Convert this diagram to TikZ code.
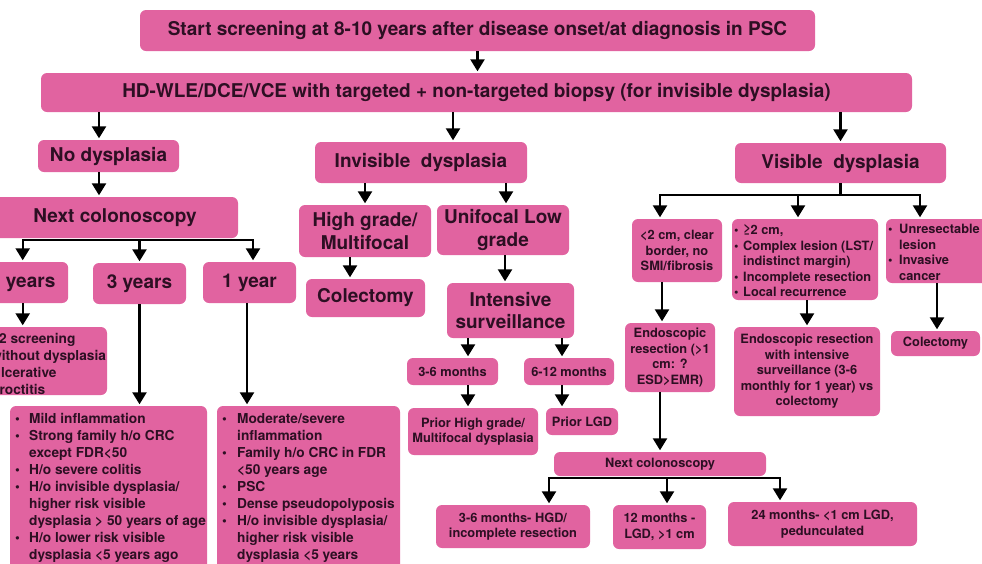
\documentclass[tikz,border=0pt]{standalone}
\usepackage{fontspec}
\setmainfont{TeX Gyre Heros}
\usetikzlibrary{arrows.meta,calc}
\definecolor{boxpink}{RGB}{225,99,160}
\definecolor{boxtext}{RGB}{45,15,35}
\begin{document}
\begin{tikzpicture}[x=1pt,y=-1pt,
  box/.style={fill=boxpink, rounded corners=6pt, inner sep=0pt, text=boxtext, align=center},
  big/.style={font=\fontsize{19}{22.5}\selectfont\bfseries},
  small/.style={font=\fontsize{12.8}{15.5}\selectfont\bfseries},
  btext/.style={inner sep=0pt, text=boxtext, align=left, anchor=north west},
  blist/.style={font=\fontsize{13.7}{17}\selectfont\bfseries},
  arr/.style={draw=black, line width=2.4pt, shorten >=1.5pt, -{Triangle[width=14pt,length=12pt]}},
  ln/.style={draw=black, line width=2.4pt}]
\useasboundingbox (0,0) rectangle (982,563);
\clip (0,0) rectangle (982,563);

% ---- top ----
\node[box,big,minimum width=675pt,minimum height=41pt] (start) at (477.5,30.5) {Start screening at 8-10 years after disease onset/at diagnosis in PSC};
\node[box,big,minimum width=871pt,minimum height=39pt] (hd) at (476.5,92.5) {HD-WLE/DCE/VCE with targeted + non-targeted biopsy (for invisible dysplasia)};
\node[box,big,minimum width=141pt,minimum height=32pt] (nodys) at (108.5,156) {No dysplasia};
\node[box,big,minimum width=212pt,minimum height=41pt] (invis) at (421,162.5) {Invisible\ \ dysplasia};
\node[box,big,minimum width=211pt,minimum height=40pt] (vis) at (840.5,163) {Visible\ \ dysplasia};

% ---- left branch ----
\node[box,big,minimum width=246pt,minimum height=41pt] (nextcol) at (115,217.5) {Next colonoscopy};
\node[box,big,minimum width=91pt,minimum height=41pt] (yfive) at (22.7,282.5) {5 years};
\node[box,big,minimum width=93pt,minimum height=41pt] (ythree) at (139.5,283.5) {3 years};
\node[box,big,minimum width=93pt,minimum height=41pt] (yone) at (249.5,282.5) {1 year};
\node[box,minimum width=132pt,minimum height=68pt] (leftbox) at (41,361) {};
\node[btext,blist] (lefttext) at (-9,332) {≥2 screening\\without dysplasia\\Ulcerative\\proctitis};
\node[box,minimum width=197pt,minimum height=214pt] (mild) at (108.5,513) {};
\node[btext,blist] (mildtext) at (15,413) {%
\makebox[14pt][l]{\textbullet}Mild inflammation\\
\makebox[14pt][l]{\textbullet}Strong family h/o CRC\\
\hspace*{14pt}except FDR<50\\
\makebox[14pt][l]{\textbullet}H/o severe colitis\\
\makebox[14pt][l]{\textbullet}H/o invisible dysplasia/\\
\hspace*{14pt}higher risk visible\\
\hspace*{14pt}dysplasia > 50 years of age\\
\makebox[14pt][l]{\textbullet}H/o lower risk visible\\
\hspace*{14pt}dysplasia <5 years ago};
\node[box,minimum width=183pt,minimum height=214pt] (moder) at (308.5,513) {};
\node[btext,blist] (modertext) at (222,413) {%
\makebox[15pt][l]{\textbullet}Moderate/severe\\
\hspace*{15pt}inflammation\\
\makebox[15pt][l]{\textbullet}Family h/o CRC in FDR\\
\hspace*{15pt}<50 years age\\
\makebox[15pt][l]{\textbullet}PSC\\
\makebox[15pt][l]{\textbullet}Dense pseudopolyposis\\
\makebox[15pt][l]{\textbullet}H/o invisible dysplasia/\\
\hspace*{15pt}higher risk visible\\
\hspace*{15pt}dysplasia <5 years};

% ---- middle branch ----
\node[box,big,minimum width=132pt,minimum height=52pt] (hg) at (365,231) {High grade/\\Multifocal};
\node[box,big,minimum width=132pt,minimum height=50pt] (ufl) at (503,230) {Unifocal Low\\grade};
\node[box,big,minimum width=119pt,minimum height=38pt] (colone) at (365.5,298) {Colectomy};
\node[box,big,minimum width=127pt,minimum height=55pt] (intens) at (510.5,310.5) {Intensive\\surveillance};
\node[box,small,minimum width=91pt,minimum height=27pt] (mthree) at (452.5,371.5) {3-6 months};
\node[box,small,minimum width=90pt,minimum height=27pt] (msix) at (569,371.5) {6-12 months};
\node[box,small,minimum width=130pt,minimum height=47pt] (priorhg) at (473,431.5) {Prior High grade/\\Multifocal dysplasia};
\node[box,small,minimum width=72pt,minimum height=27pt] (priorlgd) at (582,421.5) {Prior LGD};

% ---- right branch ----
\node[box,small,minimum width=90pt,minimum height=63pt] (boxA) at (677,250.5) {<2 cm, clear\\border, no\\SMI/fibrosis};
\node[box,minimum width=146pt,minimum height=81pt] (cplx) at (805,259.5) {};
\node[btext,small] (cplxtext) at (734,224.4) {%
\makebox[9pt][l]{\textbullet}≥2 cm,\\
\makebox[9pt][l]{\textbullet}Complex lesion (LST/\\
\hspace*{9pt}indistinct margin)\\
\makebox[9pt][l]{\textbullet}Incomplete resection\\
\makebox[9pt][l]{\textbullet}Local recurrence};
\node[box,minimum width=104pt,minimum height=64pt] (unres) at (938,251) {};
\node[btext,small] (unrestext) at (888,224.4) {%
\makebox[11pt][l]{\textbullet}Unresectable\\
\hspace*{11pt}lesion\\
\makebox[11pt][l]{\textbullet}Invasive\\
\hspace*{11pt}cancer};
\node[box,small,minimum width=90pt,minimum height=69pt] (endores) at (670,357.5) {Endoscopic\\resection (>1\\cm: ?\\ESD>EMR)};
\node[box,small,minimum width=146pt,minimum height=89pt] (endint) at (807,371.5) {Endoscopic resection\\with intensive\\surveillance (3-6\\monthly for 1 year) vs\\colectomy};
\node[box,small,minimum width=89pt,minimum height=25pt] (coltwo) at (935.5,343.5) {Colectomy};
\node[box,small,minimum width=212pt,minimum height=24pt] (nexttwo) at (660,464) {Next colonoscopy};
\node[box,small,minimum width=154pt,minimum height=43pt] (bmthree) at (513,526.5) {3-6 months- HGD/\\incomplete resection};
\node[box,small,minimum width=93pt,minimum height=44pt] (btwelve) at (659.5,527) {12 months -\\LGD, >1 cm};
\node[box,small,minimum width=189pt,minimum height=44pt] (btwentyfour) at (822.5,524) {24 months- <1 cm LGD,\\pedunculated};

% ---- connectors ----
\draw[arr] (start.south) -- (start.south |- hd.north);
\coordinate (p1) at ([xshift=-9.5pt]nodys.north);
\draw[arr] (hd.south -| p1) -- (p1);
\coordinate (p2) at ([xshift=32pt]invis.north);
\draw[arr] (hd.south -| p2) -- (p2);
\draw[arr] (hd.south -| vis.north) -- (vis.north);
\coordinate (p3) at ([xshift=-16pt]nextcol.north);
\draw[arr] (nodys.south -| p3) -- (p3);

\coordinate (f1) at ([yshift=-2pt]nextcol.south);
\coordinate (p4) at ([xshift=3.5pt]yone.north);
\draw[arr] (f1 -| ythree) -- (f1 -| yfive) -- (yfive.north);
\draw[arr] (f1 -| ythree) -- (f1 -| p4) -- (p4);
\draw[arr] (f1 -| ythree) -- (ythree.north);
\draw[arr] (yfive.south) -- (yfive.south |- leftbox.north);
\draw[arr] (ythree.south) -- (ythree.south |- mild.north);
\coordinate (p5) at ([xshift=-2.5pt]yone.south);
\draw[arr] (p5) -- (p5 |- moder.north);

\draw[arr] (invis.south -| hg.north) -- (hg.north);
\coordinate (p6) at ([xshift=3pt]ufl.north);
\draw[arr] (invis.south -| p6) -- (p6);
\coordinate (p7) at ([xshift=-15pt]hg.south);
\draw[arr] (p7) -- (p7 |- colone.north);
\coordinate (p8) at ([xshift=2pt]ufl.south);
\draw[arr] (p8) -- (p8 |- intens.north);
\coordinate (p9) at ([xshift=15.5pt]mthree.north);
\draw[arr] (intens.south -| p9) -- (p9);
\coordinate (p10) at ([xshift=-7pt]msix.north);
\draw[arr] (intens.south -| p10) -- (p10);
\draw[arr] (mthree.south -| p9) -- (p9 |- priorhg.north);
\draw[arr] (msix.south -| p10) -- (p10 |- priorlgd.north);

\coordinate (f2) at ([yshift=-12pt]vis.south);
\coordinate (pa) at ([xshift=-17pt]boxA.north);
\coordinate (pb) at ([xshift=-7pt]cplx.north);
\coordinate (pc) at ([xshift=-18pt]unres.north);
\draw[ln] (vis.south) -- (f2);
\draw[arr] (f2) -- (f2 -| pa) -- (pa);
\draw[arr] (f2) -- (f2 -| pc) -- (pc);
\draw[arr] (f2 -| pb) -- (pb);
\coordinate (pd) at ([xshift=-15pt]boxA.south);
\draw[arr] (pd) -- (pd |- endores.north);
\draw[arr] (cplx.south -| endint.north) -- (endint.north);
\coordinate (pe) at ([xshift=-1pt]unres.south);
\draw[arr] (pe) -- (pe |- coltwo.north);
\draw[arr] (endores.south -| nexttwo.north) -- (nexttwo.north);

\coordinate (f3) at ([yshift=-1.5pt]nexttwo.south);
\coordinate (q1) at ([xshift=36pt]bmthree.north);
\coordinate (q2) at ([xshift=7.5pt]btwelve.north);
\coordinate (q3) at ([xshift=-42.5pt]btwentyfour.north);
\draw[arr] (f3 -| q2) -- (f3 -| q1) -- (q1);
\draw[arr] (f3 -| q2) -- (f3 -| q3) -- (q3);
\draw[arr] (f3 -| q2) -- (q2);
\end{tikzpicture}
\end{document}
